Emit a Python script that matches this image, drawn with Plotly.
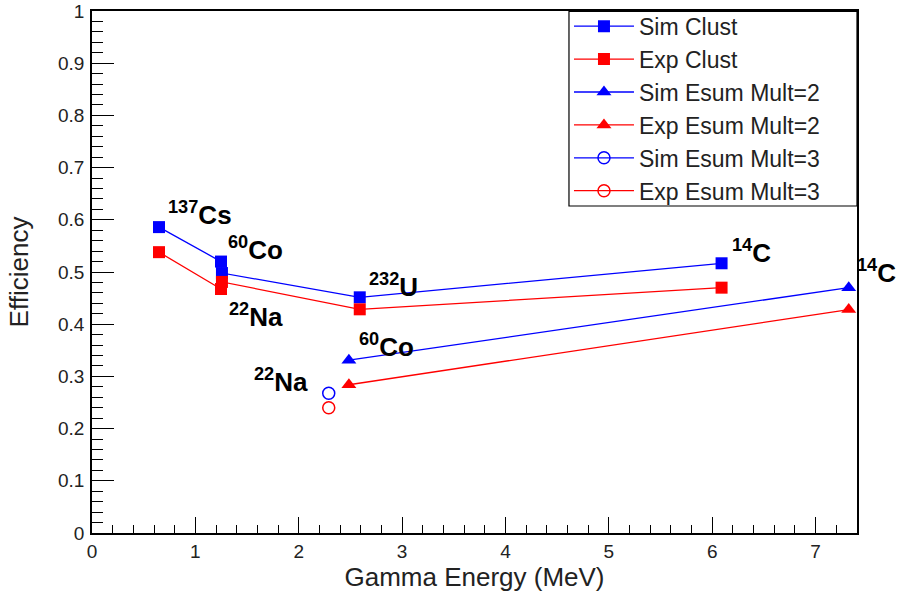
import plotly.graph_objects as go

# ---- data ----
clust_energy = [0.648, 1.248, 1.257, 2.59, 6.09]
sim_clust = [0.586, 0.520, 0.498, 0.4515, 0.5167]
exp_clust = [0.538, 0.4674, 0.481, 0.4285, 0.470]

esum2_energy = [2.485, 7.32]
sim_esum2 = [0.331, 0.470]
exp_esum2 = [0.284, 0.428]

esum3_energy = [2.29]
sim_esum3 = [0.2676]
exp_esum3 = [0.240]

# source labels: (mass number, element)
labels = [("137", "Cs"), ("60", "Co"), ("22", "Na"), ("232", "U"),
          ("60", "Co"), ("22", "Na"), ("14", "C"), ("14", "C")]
label_pos = [(0.72, 0.5766), (1.30, 0.5096), (1.31, 0.3812), (2.66, 0.4387),
             (2.565, 0.3238), (1.55, 0.2567), (6.17, 0.5038), (7.385, 0.4655)]

X_MAX = 7.4
BLUE = "#0000ff"
RED = "#ff0000"
FONT = "Liberation Sans, Arial, Helvetica, sans-serif"

fig = go.Figure()
fig.add_trace(go.Scatter(x=clust_energy, y=sim_clust, name="Sim Clust", mode="lines+markers",
                         line=dict(color=BLUE, width=1.3),
                         marker=dict(symbol="square", size=12, color=BLUE)))
fig.add_trace(go.Scatter(x=clust_energy, y=exp_clust, name="Exp Clust", mode="lines+markers",
                         line=dict(color=RED, width=1.3),
                         marker=dict(symbol="square", size=12, color=RED)))
fig.add_trace(go.Scatter(x=esum2_energy, y=sim_esum2, name="Sim Esum Mult=2", mode="lines+markers",
                         line=dict(color=BLUE, width=1.3),
                         marker=dict(symbol="triangle-up", size=13, color=BLUE)))
fig.add_trace(go.Scatter(x=esum2_energy, y=exp_esum2, name="Exp Esum Mult=2", mode="lines+markers",
                         line=dict(color=RED, width=1.3),
                         marker=dict(symbol="triangle-up", size=13, color=RED)))
fig.add_trace(go.Scatter(x=esum3_energy, y=sim_esum3, name="Sim Esum Mult=3", mode="lines+markers",
                         line=dict(color=BLUE, width=1.3),
                         marker=dict(symbol="circle-open", size=12, color=BLUE, line=dict(width=1.5))))
fig.add_trace(go.Scatter(x=esum3_energy, y=exp_esum3, name="Exp Esum Mult=3", mode="lines+markers",
                         line=dict(color=RED, width=1.3),
                         marker=dict(symbol="circle-open", size=12, color=RED, line=dict(width=1.5))))

for (a, el), (lx, ly) in zip(labels, label_pos):
    fig.add_annotation(x=lx / X_MAX, y=ly, xref="paper", yref="y", xanchor="left", yanchor="bottom",
                       text=f"<b><sup>{a}</sup>{el}</b>", showarrow=False,
                       font=dict(family=FONT, size=26, color="black"))

axis_common = dict(showline=True, linecolor="black", linewidth=1.5, mirror=True,
                   ticks="inside", tickcolor="black", tickwidth=1.2,
                   showgrid=False, zeroline=False,
                   tickfont=dict(family=FONT, size=19, color="#222"))

fig.update_xaxes(range=[0, X_MAX], dtick=1, tick0=0, ticklen=16,
                 minor=dict(dtick=0.2, ticklen=8, ticks="inside", tickcolor="black", tickwidth=1.2),
                 title=dict(text="Gamma Energy (MeV)", font=dict(family=FONT, size=26, color="#222"),
                            standoff=2),
                 **axis_common)
fig.update_yaxes(range=[0, 1], dtick=0.1, tick0=0, ticklen=22,
                 minor=dict(dtick=0.02, ticklen=11, ticks="inside", tickcolor="black", tickwidth=1.2),
                 title=dict(text="Efficiency", font=dict(family=FONT, size=26, color="#222"),
                            standoff=22),
                 ticklabelstandoff=2,
                 **axis_common)

# legend frame (ROOT TLegend box) drawn as a rectangle
fig.add_shape(type="rect", xref="paper", yref="paper", x0=0.6235, x1=1.0, y0=0.6264, y1=0.999,
              line=dict(color="black", width=1.2), fillcolor="rgba(0,0,0,0)", layer="above")

fig.update_layout(
    width=900, height=592,
    margin=dict(l=92, r=43, t=11, b=59, autoexpand=False),
    paper_bgcolor="white", plot_bgcolor="white",
    legend=dict(x=0.6235, y=1.012, xanchor="left", yanchor="top",
                borderwidth=0, bgcolor="rgba(0,0,0,0)",
                font=dict(family=FONT, size=23, color="#222"),
                itemwidth=60, tracegroupgap=0),
    showlegend=True,
)

# remove the default page margin so the 900x592 figure fills the window exactly
fig.write_html("out.html", config={"displayModeBar": False},
               post_script="document.body.style.margin='0';")
